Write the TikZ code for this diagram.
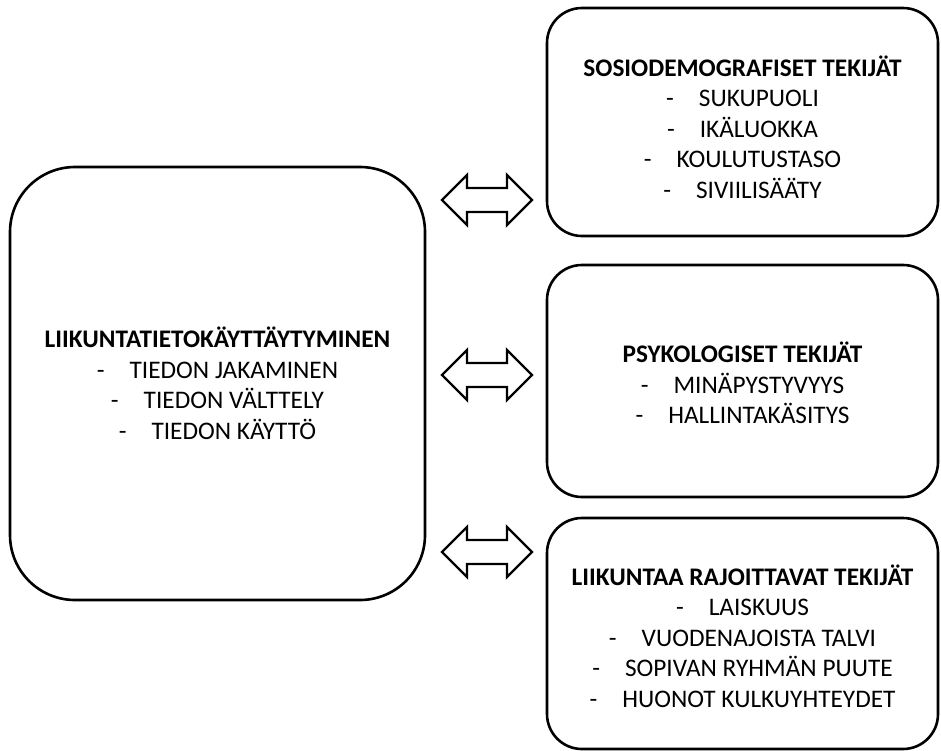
\documentclass[tikz,border=0pt]{standalone}
\usepackage{fontspec}
\setmainfont{Carlito}
\begin{document}
\begin{tikzpicture}[x=1pt,y=-1pt,
  box/.style={draw=black, line width=2.6pt, inner sep=0pt, rectangle},
  txt/.style={align=center, inner sep=0pt, font=\fontsize{25.3}{30.5}\selectfont},
  dblarrow/.pic={\draw[line width=2.4pt, line join=miter]
    (-45,0) -- (-20,-25) -- (-20,-12) -- (20,-12) -- (20,-25) -- (45,0)
    -- (20,25) -- (20,12) -- (-20,12) -- (-20,25) -- cycle;}
]
\useasboundingbox (0,0) rectangle (941,750);
\newcommand{\itm}[1]{-\hspace{25pt}#1}
% boxes
\node[box, rounded corners=65pt, minimum width=415pt, minimum height=433pt] (main) at (217.5,383.5) {};
\node[box, rounded corners=35pt, minimum width=391pt, minimum height=228pt] (socio) at (742.5,122) {};
\node[box, rounded corners=35pt, minimum width=391pt, minimum height=232pt] (psyko) at (742.5,381) {};
\node[box, rounded corners=35pt, minimum width=391pt, minimum height=231pt] (rajo) at (742.5,633.5) {};
% texts
\node[txt] (tmain) at (217.5,383.5) {\textbf{LIIKUNTATIETOKÄYTTÄYTYMINEN}\\\itm{TIEDON JAKAMINEN}\\\itm{TIEDON VÄLTTELY}\\\itm{TIEDON KÄYTTÖ}};
\node[txt] (tsocio) at (742.5,127) {\textbf{SOSIODEMOGRAFISET TEKIJÄT}\\\itm{SUKUPUOLI}\\\itm{IKÄLUOKKA}\\\itm{KOULUTUSTASO}\\\itm{SIVIILISÄÄTY}};
\node[txt] (tpsyko) at (742.5,383) {\textbf{PSYKOLOGISET TEKIJÄT}\\\itm{MINÄPYSTYVYYS}\\\itm{HALLINTAKÄSITYS}};
\node[txt] (trajo) at (742.5,636) {\textbf{LIIKUNTAA RAJOITTAVAT TEKIJÄT}\\\itm{LAISKUUS}\\\itm{VUODENAJOISTA TALVI}\\\itm{SOPIVAN RYHMÄN PUUTE}\\\itm{HUONOT KULKUYHTEYDET}};
% double arrows between the left box and the right boxes
\coordinate (a1) at (487,200);
\coordinate (a2) at (487,375);
\coordinate (a3) at (487,552);
\pic at (a1) {dblarrow};
\pic at (a2) {dblarrow};
\pic at (a3) {dblarrow};
\end{tikzpicture}
\end{document}
